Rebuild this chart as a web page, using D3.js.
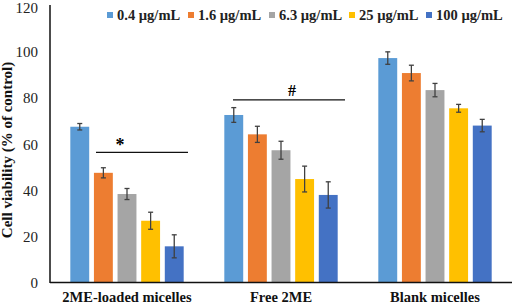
<!DOCTYPE html>
<html><head><meta charset="utf-8">
<script src="https://cdn.jsdelivr.net/npm/d3@7"></script>
<style>body{margin:0;background:#fff}svg{display:block}</style>
</head><body>
<svg id="c" width="512" height="304"></svg>
<script>
const groups = ["2ME-loaded micelles", "Free 2ME", "Blank micelles"];
const series = ["0.4 µg/mL", "1.6 µg/mL", "6.3 µg/mL", "25 µg/mL", "100 µg/mL"];
const colors = ["#5B9BD5", "#ED7D31", "#A5A5A5", "#FFC000", "#4472C4"];
const values = [
  [67.6, 47.6, 38.4, 26.8, 15.7],
  [72.7, 64.3, 57.4, 44.9, 38.0],
  [97.4, 90.9, 83.5, 75.6, 68.1]
];
const errors = [
  [1.4, 2.2, 2.4, 3.7, 5.0],
  [3.2, 3.5, 3.9, 5.6, 5.7],
  [2.7, 3.4, 2.9, 1.7, 2.7]
];
const yTicks = [0, 20, 40, 60, 80, 100, 120];
const sigMarks = ["*", "#"];

const svg = d3.select("#c");
const serif = "'Liberation Serif','Times New Roman',serif";
const x0 = d3.scaleBand().domain(groups).range([50, 512]).padding(0);
const x1 = d3.scaleBand().domain(series).range([0, x0.bandwidth()]).paddingInner(0.2).paddingOuter(0.86);
const y = d3.scaleLinear().domain([0, 120]).range([282.5, 6]);

// y tick labels
const yAxis = d3.axisLeft(y).tickValues(yTicks).tickSize(0).tickPadding(12);
const ya = svg.append("g").attr("transform", "translate(50,0)").call(yAxis);
ya.select(".domain").remove();
ya.selectAll("text").attr("font-family", serif).attr("font-size", 15).attr("fill", "#222")
  .attr("dy", d => d === 120 ? "0.42em" : "0.32em");

// bars
const data = [];
groups.forEach((g, gi) => series.forEach((s, si) => data.push({g, s, si, v: values[gi][si], e: errors[gi][si]})));
svg.append("g").selectAll("rect").data(data).join("rect")
  .attr("x", d => x0(d.g) + x1(d.s))
  .attr("y", d => y(d.v))
  .attr("width", x1.bandwidth())
  .attr("height", d => y(0) - y(d.v))
  .attr("fill", d => colors[d.si]);

// error bars
const eg = svg.append("g").attr("stroke", "#404040").attr("stroke-width", 1.3);
data.forEach(d => {
  const cx = x0(d.g) + x1(d.s) + x1.bandwidth() / 2;
  eg.append("line").attr("x1", cx).attr("x2", cx).attr("y1", y(d.v + d.e)).attr("y2", y(d.v - d.e));
  eg.append("line").attr("x1", cx - 2.5).attr("x2", cx + 2.5).attr("y1", y(d.v + d.e)).attr("y2", y(d.v + d.e));
  eg.append("line").attr("x1", cx - 2.5).attr("x2", cx + 2.5).attr("y1", y(d.v - d.e)).attr("y2", y(d.v - d.e));
});

// axes lines
svg.append("line").attr("x1", 50).attr("x2", 50).attr("y1", 5).attr("y2", 283).attr("stroke", "#111").attr("stroke-width", 1.5);
svg.append("line").attr("x1", 50).attr("x2", 512).attr("y1", 282.5).attr("y2", 282.5).attr("stroke", "#111").attr("stroke-width", 1.5);

// significance lines
const sig = [
  {x1: 96, x2: 188, yv: 56.5, tx: 120, m: sigMarks[0]},
  {x1: 233, x2: 345, yv: 79.3, tx: 292, m: sigMarks[1]}
];
sig.forEach(s => {
  svg.append("line").attr("x1", s.x1).attr("x2", s.x2).attr("y1", y(s.yv)).attr("y2", y(s.yv)).attr("stroke", "#111").attr("stroke-width", 1.2);
  svg.append("text").attr("x", s.tx).attr("y", y(s.yv) - (s.m === "*" ? 1 : 4)).attr("text-anchor", "middle")
    .attr("font-family", serif).attr("font-weight", "bold").attr("font-size", s.m === "*" ? 18 : 16).text(s.m);
});

// x labels
svg.append("g").selectAll("text").data(groups).join("text")
  .attr("x", d => x0(d) + x0.bandwidth() / 2).attr("y", 302)
  .attr("text-anchor", "middle").attr("font-family", serif).attr("font-weight", "bold").attr("font-size", 14.5)
  .attr("fill", "#111").text(d => d);

// y title
svg.append("text").attr("transform", "translate(12,150) rotate(-90)").attr("text-anchor", "middle")
  .attr("font-family", serif).attr("font-weight", "bold").attr("font-size", 15).attr("fill", "#111")
  .text("Cell viability (% of control)");

// legend
const legX = [107, 188, 269, 349, 426];
const lg = svg.append("g");
series.forEach((s, i) => {
  lg.append("rect").attr("x", legX[i]).attr("y", 12).attr("width", 6).attr("height", 6).attr("fill", colors[i]);
  lg.append("text").attr("x", legX[i] + 10).attr("y", 20).attr("font-family", serif).attr("font-weight", "bold")
    .attr("font-size", 14.5).attr("fill", "#222").text(s);
});
</script>
</body></html>
